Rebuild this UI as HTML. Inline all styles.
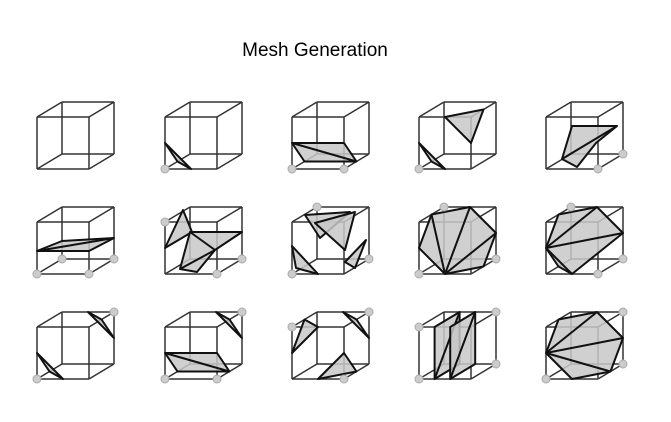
<!DOCTYPE html>
<html><head><meta charset="utf-8"><style>
html,body{margin:0;padding:0;background:#fff;width:671px;height:422px;overflow:hidden}
svg{position:absolute;left:0;top:0}
</style></head><body>
<svg id="s" width="671" height="422" viewBox="0 0 671 422" xmlns="http://www.w3.org/2000/svg">
<text x="315" y="56" font-family="Liberation Sans, sans-serif" font-size="19" text-anchor="middle" fill="#000">Mesh Generation</text>
</svg>
<script>
var S=document.getElementById('s'),NS='http://www.w3.org/2000/svg';
var X0=[37,165,292,419,546],Y0=[117,222,327];
var C=[[0,0,0],[1,0,0],[1,0,1],[0,0,1],[0,1,0],[1,1,0],[1,1,1],[0,1,1]];
var E=[[0,1],[1,2],[2,3],[3,0],[4,5],[5,6],[6,7],[7,4],[0,4],[1,5],[2,6],[3,7]];
var cases=[
{d:[],p:[]},
{d:[0],p:[[[0,.5,0],[.5,0,0],[0,0,.5]]]},
{d:[0,1],p:[[[0,.5,0],[1,.5,0],[1,0,.5],[0,0,.5]]]},
{d:[0],p:[[[0,.5,0],[.5,0,0],[0,0,.5]],[[.5,1,0],[1,1,.5],[1,.5,0]]]},
{d:[1,2],s:[[[26,9],[71,9],[50,26],[31,50],[16,42]]],sl:[[[71,9],[16,42]]]},
{d:[0,1,2,3],s:[[[0,29],[25,19],[77,16],[52,29]]],sl:[[[0,29],[77,16]]]},
{d:[4,1,2],s:[[[0,26],[18,-12],[27,10]],[[25,10],[77,10],[50,28],[32,50],[15,47]]],sl:[[[15,47],[50,28]],[[25,10],[50,28]]]},
{d:[7,2,0],s:[[[13,-7],[58,-10],[28,16]],[[23,1],[63,-10],[53,28]],[[53,40],[74,18],[63,46]],[[0,24],[26,52],[4,46]]]},
{d:[0,2,7],p:[[[.5,0,0],[1,0,.5],[1,.5,1],[.5,1,1],[0,1,.5],[0,.5,0]]]},
{d:[1,2,7],p:[[[0,.5,0],[0,1,.5],[.5,1,1],[1,.5,1],[.5,0,0],[0,0,.5]]]},
{d:[0,6],p:[[[0,.5,0],[.5,0,0],[0,0,.5]],[[1,.5,1],[.5,1,1],[1,1,.5]]]},
{d:[0,1,6],p:[[[0,.5,0],[1,.5,0],[1,0,.5],[0,0,.5]],[[1,.5,1],[.5,1,1],[1,1,.5]]]},
{d:[4,1,6],p:[[[0,.5,0],[.5,1,0],[0,1,.5]],[[.5,0,0],[1,.5,0],[1,0,.5]],[[1,.5,1],[.5,1,1],[1,1,.5]]]},
{d:[0,4,2,6],p:[[[.3,0,0],[.3,0,1],[.3,1,1],[.3,1,0]],[[.6,0,0],[.6,0,1],[.6,1,1],[.6,1,0]]]},
{d:[0,2,6],p:[[[0,.5,0],[.5,0,0],[1,0,.5],[1,.5,1],[.5,1,1],[0,1,.5]]]}
];
function el(n,a){var e=document.createElementNS(NS,n);for(var k in a)e.setAttribute(k,a[k]);S.appendChild(e);return e;}
cases.forEach(function(cs,i){
 var x0=X0[i%5],y0=Y0[Math.floor(i/5)];
 function P(p){return [x0+52*p[0]+25*p[2],y0+52-52*p[1]-15*p[2]];}
 function Q(q){return [x0+q[0],y0+q[1]];}
 E.forEach(function(e){var a=P(C[e[0]]),b=P(C[e[1]]);el('line',{x1:a[0],y1:a[1],x2:b[0],y2:b[1],stroke:'#333','stroke-width':1.5});});
 function draw(poly,f){
  var pts=poly.map(function(q){return f(q).join(',');}).join(' ');
  el('polygon',{points:pts,fill:'#c8c8c8','fill-opacity':0.85,stroke:'#111','stroke-width':2,'stroke-linejoin':'round'});
 }
 (cs.p||[]).forEach(function(poly){
  draw(poly,P);
  if(poly.length>3){var a=P(poly[0]);for(var j=2;j<poly.length-1;j++){var b=P(poly[j]);el('line',{x1:a[0],y1:a[1],x2:b[0],y2:b[1],stroke:'#111','stroke-width':2});}}
 });
 (cs.s||[]).forEach(function(poly){draw(poly,Q);});
 (cs.sl||[]).forEach(function(l){var a=Q(l[0]),b=Q(l[1]);el('line',{x1:a[0],y1:a[1],x2:b[0],y2:b[1],stroke:'#111','stroke-width':2});});
 cs.d.forEach(function(c){var p=P(C[c]);el('circle',{cx:p[0],cy:p[1],r:4,fill:'#ccc',stroke:'#aaa','stroke-width':1});});
});
</script>
</body></html>
